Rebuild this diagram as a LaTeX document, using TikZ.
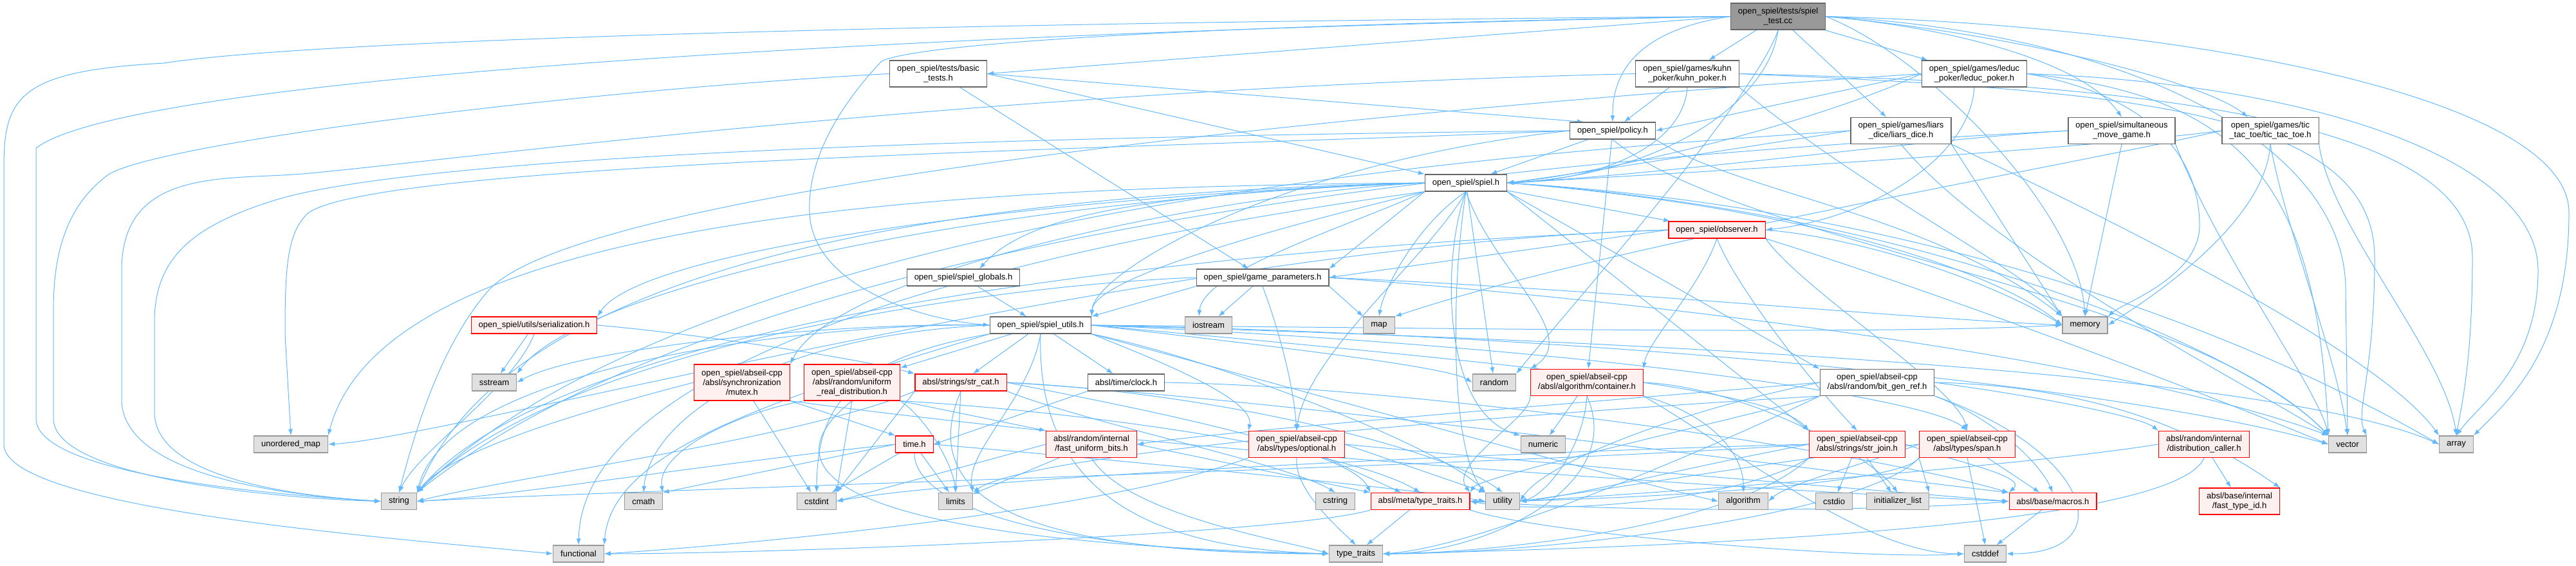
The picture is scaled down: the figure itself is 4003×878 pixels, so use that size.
\documentclass[tikz,border=0pt]{standalone}
\usepackage{fontspec}
\setmainfont{Liberation Sans}
\usepackage{tikz}
\usetikzlibrary{arrows.meta,backgrounds}

\definecolor{edgeblue}{HTML}{63B8FF}
\definecolor{boxline}{HTML}{666666}
\definecolor{mainfill}{HTML}{999999}
\definecolor{sysfill}{HTML}{E0E0E0}
\definecolor{sysline}{HTML}{999999}
\definecolor{cutfill}{HTML}{FFF0F0}
\definecolor{cutline}{HTML}{FF0000}

\tikzset{
  filebox/.style={draw=boxline, fill=white, line width=1.2pt, font=\fontsize{13}{15}\selectfont,
    inner xsep=11.5pt, inner ysep=2pt, minimum height=26pt, align=center},
  mainbox/.style={filebox, fill=mainfill},
  cutbox/.style={filebox, draw=cutline, fill=cutfill},
  sysbox/.style={filebox, draw=sysline, fill=sysfill},
  lines2/.style={minimum height=41pt},
  lines3/.style={minimum height=56pt},
  incl/.style={draw=edgeblue, line width=1pt, -{Latex[length=10pt,width=7pt]}}
}

\begin{document}
\begin{tikzpicture}[x=1pt,y=-1pt]
\useasboundingbox (0,0) rectangle (4003,878);

\node[mainbox,lines2] (main) at (2763,25.5) {open\_spiel/tests/spiel\\\_test.cc};
\node[filebox,lines2] (basic) at (1458,114.5) {open\_spiel/tests/basic\\\_tests.h};
\node[filebox,lines2] (kuhn) at (2622,114.5) {open\_spiel/games/kuhn\\\_poker/kuhn\_poker.h};
\node[filebox,lines2] (leduc) at (3068,114.5) {open\_spiel/games/leduc\\\_poker/leduc\_poker.h};
\node[filebox] (policy) at (2506,203) {open\_spiel/policy.h};
\node[filebox,lines2] (liars) at (2954,203) {open\_spiel/games/liars\\\_dice/liars\_dice.h};
\node[filebox,lines2] (simul) at (3297,203) {open\_spiel/simultaneous\\\_move\_game.h};
\node[filebox,lines2] (ttt) at (3528,203) {open\_spiel/games/tic\\\_tac\_toe/tic\_tac\_toe.h};
\node[filebox] (spiel) at (2278,284) {open\_spiel/spiel.h};
\node[cutbox] (observer) at (2668,357) {open\_spiel/observer.h};
\node[filebox] (globals) at (1497,431) {open\_spiel/spiel\_globals.h};
\node[filebox] (params) at (1962,431) {open\_spiel/game\_parameters.h};
\node[sysbox] (map) at (2143,505) {map};
\node[sysbox] (iostream) at (1878,505) {iostream};
\node[sysbox] (memory) at (3240,505) {memory};
\node[cutbox] (serial) at (830,505) {open\_spiel/utils/serialization.h};
\node[filebox] (utils) at (1617,505) {open\_spiel/spiel\_utils.h};
\node[sysbox] (sstream) at (768,594) {sstream};
\node[cutbox,lines3] (mutex) at (1153,594) {open\_spiel/abseil-cpp\\/absl/synchronization\\/mutex.h};
\node[cutbox,lines3] (unireal) at (1324,594) {open\_spiel/abseil-cpp\\/absl/random/uniform\\\_real\_distribution.h};
\node[cutbox] (strcat) at (1493,594) {absl/strings/str\_cat.h};
\node[filebox] (clock) at (1750,594) {absl/time/clock.h};
\node[sysbox] (random) at (2322,594) {random};
\node[cutbox,lines2] (container) at (2466,594) {open\_spiel/abseil-cpp\\/absl/algorithm/container.h};
\node[filebox,lines2] (bitgen) at (2917,594) {open\_spiel/abseil-cpp\\/absl/random/bit\_gen\_ref.h};
\node[sysbox] (umap) at (452,690) {unordered\_map};
\node[cutbox] (timeh) at (1421,690) {time.h};
\node[cutbox,lines2] (fastbits) at (1696,690) {absl/random/internal\\/fast\_uniform\_bits.h};
\node[cutbox,lines2] (optional) at (2015,690) {open\_spiel/abseil-cpp\\/absl/types/optional.h};
\node[sysbox] (numeric) at (2398,690) {numeric};
\node[cutbox,lines2] (strjoin) at (2886,690) {open\_spiel/abseil-cpp\\/absl/strings/str\_join.h};
\node[cutbox,lines2] (span) at (3057,690) {open\_spiel/abseil-cpp\\/absl/types/span.h};
\node[cutbox,lines2] (distcaller) at (3425,690) {absl/random/internal\\/distribution\_caller.h};
\node[sysbox] (vector) at (3648,690) {vector};
\node[sysbox] (array) at (3817,690) {array};
\node[sysbox] (string) at (620,778.5) {string};
\node[sysbox] (cmath) at (1000,778.5) {cmath};
\node[sysbox] (cstdint) at (1269,778.5) {cstdint};
\node[sysbox] (limits) at (1485,778.5) {limits};
\node[sysbox] (cstring) at (2075,778.5) {cstring};
\node[cutbox] (metatt) at (2207,778.5) {absl/meta/type\_traits.h};
\node[sysbox] (utility) at (2335,778.5) {utility};
\node[sysbox] (algorithm) at (2709,778.5) {algorithm};
\node[sysbox] (cstdio) at (2850,778.5) {cstdio};
\node[sysbox] (initlist) at (2949,778.5) {initializer\_list};
\node[cutbox] (macros) at (3190,778.5) {absl/base/macros.h};
\node[cutbox,lines2] (fasttypeid) at (3480,778.5) {absl/base/internal\\/fast\_type\_id.h};
\node[sysbox] (functional) at (899,860) {functional};
\node[sysbox] (typetraits) at (2107,860) {type\_traits};
\node[sysbox] (cstddef) at (3085,860) {cstddef};

\begin{scope}[on background layer]
% spiel_test.cc
\draw[incl] (main.west) .. controls (1500,35) and (500,60) .. (255,98) .. controls (30,110) and (6,150) .. (6,260) -- (6,690) .. controls (6,790) and (600,835) .. (functional.west);
\draw[incl] (main.west) .. controls (1400,50) and (200,120) .. (56,230) -- (56,650) .. controls (56,740) and (450,770) .. (string.west);
\draw[incl] (main.west) -- (basic.east);
\draw[incl] (main.west) .. controls (1800,40) and (1420,70) .. (1370,95) .. controls (1290,180) and (1255,260) .. (1258,330) .. controls (1262,440) and (1420,495) .. (utils.west);
\draw[incl] (main) -- (kuhn);
\draw[incl] (main.west) .. controls (2560,45) and (2505,100) .. (policy.north);
\draw[incl] (main.south) .. controls (2750,150) and (2600,270) .. (spiel.east);
\draw[incl] (main.south) .. controls (2730,150) and (2420,500) .. (random.north east);
\draw[incl] (main) -- (liars);
\draw[incl] (main) -- (leduc);
\draw[incl] (main.east) .. controls (3050,45) and (3240,100) .. (simul.north);
\draw[incl] (main.east) .. controls (3150,55) and (3430,130) .. ([xshift=-35pt]ttt.north);
\draw[incl] (main.east) .. controls (3400,40) and (3992,150) .. (3992,330) .. controls (3992,540) and (3900,620) .. (array.north east);
\draw[incl] (main.east) .. controls (3300,50) and (3645,220) .. (3645,450) -- (vector.north);
\draw[incl] (main.east) .. controls (3000,90) and (3230,330) .. (memory.north);
% basic_tests.h
\draw[incl] (basic.west) .. controls (900,140) and (260,220) .. (170,270) .. controls (100,320) and (83,400) .. (83,480) -- (83,650) .. controls (83,745) and (450,775) .. (string.west);
\draw[incl] (basic) -- (params);
\draw[incl] (basic.east) -- (spiel.north west);
\draw[incl] (basic.east) -- ([xshift=-45pt]policy.north);
% kuhn_poker.h
\draw[incl] (kuhn.west) .. controls (1500,140) and (700,250) .. (470,270) .. controls (350,280) and (189,260) .. (189,420) -- (189,620) .. controls (189,740) and (450,770) .. (string.west);
\draw[incl] (kuhn) -- (policy);
\draw[incl] (kuhn.south) .. controls (2615,230) and (2480,280) .. (spiel.east);
\draw[incl] (kuhn.east) .. controls (3300,140) and (3690,170) .. (3690,400) .. controls (3690,580) and (3660,640) .. (vector.north east);
\draw[incl] (kuhn.east) .. controls (3400,130) and (3842,200) .. (3842,400) .. controls (3842,560) and (3825,630) .. (array.north);
\draw[incl] (kuhn.south east) .. controls (2900,300) and (3150,420) .. (memory.north west);
% leduc_poker.h
\draw[incl] (leduc.west) -- (policy.east);
\draw[incl] (leduc.west) .. controls (2800,200) and (2480,270) .. (spiel.east);
\draw[incl] (leduc.south) .. controls (3060,250) and (2900,340) .. (observer.east);
\draw[incl] (leduc.east) .. controls (3350,150) and (3418,250) .. (3418,350) .. controls (3418,430) and (3300,470) .. (memory.north east);
\draw[incl] (leduc.east) .. controls (3600,130) and (3944,250) .. (3944,420) .. controls (3944,570) and (3850,630) .. (array.north);
\draw[incl] (leduc.east) .. controls (3500,150) and (3600,300) .. (vector.north west);
\draw[incl] (leduc.west) .. controls (2000,180) and (900,300) .. (760,450) .. controls (690,530) and (650,650) .. (string.north);
% policy.h
\draw[incl] (policy) -- (spiel);
\draw[incl] (policy) -- (container);
\draw[incl] (policy.west) .. controls (1800,210) and (700,230) .. (430,310) .. controls (300,350) and (240,400) .. (240,500) -- (240,640) .. controls (240,740) and (450,770) .. (string.west);
\draw[incl] (policy.west) .. controls (1800,230) and (600,250) .. (480,330) .. controls (445,360) and (443,420) .. (443,520) -- (umap.north);
\draw[incl] (policy.south east) .. controls (2700,300) and (3000,330) .. (memory.north west);
\draw[incl] (policy.south) .. controls (2700,380) and (3400,450) .. (vector.north west);
\draw[incl] (policy.west) .. controls (2000,250) and (1700,420) .. (utils.north east);
% liars_dice.h
\draw[incl] (liars.west) .. controls (2700,230) and (2450,270) .. (spiel.east);
\draw[incl] (liars.south east) -- (memory.north west);
\draw[incl] (liars.south) .. controls (3100,400) and (3500,600) .. (vector.north west);
\draw[incl] (liars.south east) .. controls (3300,350) and (3700,550) .. (array.north west);
\draw[incl] (liars.west) .. controls (2300,240) and (1100,330) .. (string.north east);
% simultaneous_move_game.h
\draw[incl] (simul.west) .. controls (3000,215) and (2600,270) .. (spiel.east);
\draw[incl] (simul.south) -- (memory.north);
\draw[incl] (simul.south east) .. controls (3450,400) and (3600,600) .. (vector.north west);
\draw[incl] (simul.west) .. controls (2500,240) and (1200,330) .. (string.north east);
% tic_tac_toe.h
\draw[incl] (ttt.west) .. controls (3200,235) and (2600,270) .. (spiel.east);
\draw[incl] (ttt.west) .. controls (3200,260) and (2500,380) .. (map.north east);
\draw[incl] (ttt.south) .. controls (3520,350) and (3330,470) .. (memory.east);
\draw[incl] (ttt.south) .. controls (3550,350) and (3630,550) .. (vector.north);
\draw[incl] (ttt.south east) .. controls (3620,350) and (3800,550) .. (array.north);
% spiel.h
\draw[incl] (spiel) -- (observer);
\draw[incl] (spiel.south west) -- (params.north east);
\draw[incl] (spiel.west) .. controls (1800,300) and (1600,330) .. ([xshift=25pt]globals.north);
\draw[incl] (spiel.south west) .. controls (2000,350) and (1700,430) .. (utils.north east);
\draw[incl] (spiel.west) .. controls (1900,300) and (1300,420) .. (mutex.north east);
\draw[incl] (spiel.west) .. controls (1700,300) and (1000,380) .. (serial.north east);
\draw[incl] (spiel.west) .. controls (1500,300) and (800,400) .. (string.north east);
\draw[incl] (spiel.west) .. controls (1500,290) and (600,330) .. (umap.north east);
\draw[incl] (spiel.south west) .. controls (1600,380) and (905,550) .. (functional.north);
\draw[incl] (spiel) -- (random);
\draw[incl] (spiel.south east) -- (bitgen.north west);
\draw[incl] (spiel.south east) -- (strjoin.north west);
\draw[incl] (spiel.south) .. controls (2220,400) and (2030,550) .. (optional.north);
\draw[incl] (spiel.south) .. controls (2254,450) and (2254,700) .. (utility.north west);
\draw[incl] (spiel.south) .. controls (2240,400) and (2240,640) .. (numeric.north west);
\draw[incl] (spiel.east) .. controls (2800,320) and (3100,420) .. (memory.west);
\draw[incl] (spiel.east) .. controls (3000,330) and (3500,550) .. (vector.north west);
\draw[incl] (spiel.east) .. controls (3100,330) and (3600,580) .. (array.west);
\draw[incl] (spiel.south west) .. controls (2100,350) and (1870,420) .. ([xshift=-15pt]iostream.north);
\draw[incl] (spiel.south) .. controls (2200,350) and (2150,450) .. (map.north);
\draw[incl] (spiel.west) .. controls (1500,310) and (900,450) .. (sstream.north east);
\draw[incl] (spiel.south) .. controls (2320,420) and (2460,520) .. (container.north west);
% observer.h
\draw[incl] (observer.west) -- (params.east);
\draw[incl] (observer.west) .. controls (2000,380) and (900,470) .. (string.north east);
\draw[incl] (observer.west) .. controls (1800,380) and (700,680) .. (umap.east);
\draw[incl] (observer.east) .. controls (2900,370) and (3100,440) .. (memory.west);
\draw[incl] (observer.south east) .. controls (3000,450) and (3400,600) .. (vector.west);
\draw[incl] (observer.south) .. controls (2640,450) and (2560,530) .. (container.north east);
\draw[incl] (observer.south) .. controls (2700,450) and (2820,600) .. (strjoin.north);
\draw[incl] (observer.south east) .. controls (2800,450) and (3040,600) .. (span.north);
% game_parameters.h
\draw[incl] (params.south west) -- (utils.north east);
\draw[incl] (params) -- (iostream);
\draw[incl] (params.south east) -- (map.north west);
\draw[incl] (params.east) .. controls (2500,450) and (2900,490) .. (memory.west);
\draw[incl] (params.west) .. controls (1600,440) and (900,520) .. (string.north east);
\draw[incl] (params.south) .. controls (1990,520) and (2010,600) .. (optional.north);
\draw[incl] (params.east) .. controls (2600,470) and (3300,560) .. (vector.north west);
% spiel_globals.h
\draw[incl] (globals) -- (utils);
% serialization.h
\draw[incl] (serial) -- (sstream);
\draw[incl] (serial.east) .. controls (1100,520) and (1350,560) .. (strcat.north west);
\draw[incl] (serial.south) .. controls (800,600) and (650,700) .. (string.north);
% spiel_utils.h
\draw[incl] (utils) -- (unireal);
\draw[incl] (utils) -- (strcat);
\draw[incl] (utils) -- (clock);
\draw[incl] (utils.south east) .. controls (1800,560) and (1950,620) .. (optional.north west);
\draw[incl] (utils.west) .. controls (1300,500) and (700,560) .. (string.north east);
\draw[incl] (utils.west) .. controls (1300,500) and (900,540) .. (sstream.east);
\draw[incl] (utils.south west) .. controls (1200,620) and (950,700) .. (functional.north east);
\draw[incl] (utils.west) .. controls (1200,520) and (1010,650) .. (cmath.north);
\draw[incl] (utils.south west) .. controls (1300,560) and (1270,650) .. (cstdint.north);
\draw[incl] (utils.south) .. controls (1612,700) and (1700,850) .. (typetraits.west);
\draw[incl] (utils.south east) .. controls (1900,560) and (2250,700) .. (utility.north west);
\draw[incl] (utils.east) .. controls (2500,520) and (3300,600) .. (vector.west);
\draw[incl] (utils.east) .. controls (2300,510) and (2900,520) .. (memory.west);
\draw[incl] (utils.east) .. controls (2000,540) and (2250,570) .. (random.west);
\draw[incl] (utils.south east) .. controls (2000,600) and (2500,740) .. (algorithm.west);
\draw[incl] (utils.east) .. controls (2300,560) and (2750,600) .. (strjoin.north west);
\draw[incl] (utils.east) .. controls (2500,540) and (3000,620) .. (span.north);
\draw[incl] (utils.south) .. controls (1600,620) and (1500,700) .. (limits.north east);
\draw[incl] (utils.east) .. controls (2200,520) and (3500,560) .. (array.west);
% synchronization/mutex.h
\draw[incl] (mutex) -- (cstdint);
\draw[incl] (mutex.south east) -- (timeh.north west);
\draw[incl] (mutex.west) .. controls (900,640) and (700,700) .. (string.north east);
\draw[incl] (mutex.south east) .. controls (1800,700) and (2700,760) .. (macros.west);
% uniform_real_distribution.h
\draw[incl] (unireal.south) -- (cstdint.north east);
\draw[incl] (unireal.south east) .. controls (1440,650) and (1480,720) .. (limits.north);
\draw[incl] (unireal.south east) -- (fastbits.north west);
\draw[incl] (unireal.south) .. controls (1200,720) and (1250,840) .. (typetraits.west);
\draw[incl] (unireal.south west) .. controls (1150,640) and (1020,700) .. (cmath.north east);
\draw[incl] (unireal.south east) .. controls (1700,640) and (2100,700) .. (metatt.north);
% str_cat.h
\draw[incl] (strcat.south west) -- (cstdint.north east);
\draw[incl] (strcat.south west) .. controls (1250,680) and (800,740) .. (string.east);
\draw[incl] (strcat.south) -- (limits.north);
\draw[incl] (strcat.south east) .. controls (1700,660) and (2000,720) .. (cstring.north);
\draw[incl] (strcat.east) .. controls (1900,610) and (2250,700) .. (utility.north);
\draw[incl] (strcat.east) .. controls (2000,620) and (2900,740) .. (macros.north west);
\draw[incl] (strcat.south) .. controls (1420,780) and (1600,860) .. (typetraits.west);
\draw[incl] (strcat.east) .. controls (1800,640) and (2100,700) .. (metatt.north west);
% clock.h
\draw[incl] (clock.south west) -- (timeh.east);
\draw[incl] (clock.east) .. controls (2200,600) and (2900,700) .. (macros.north west);
% time.h
\draw[incl] (timeh) -- (cstdint);
\draw[incl] (timeh) -- (limits);
\draw[incl] (timeh.west) .. controls (1100,720) and (800,770) .. (string.east);
\draw[incl] (timeh.west) -- (cmath.north east);
\draw[incl] (timeh.south) .. controls (1420,800) and (1700,860) .. (typetraits.west);
\draw[incl] (timeh.east) .. controls (1800,720) and (2200,760) .. (utility.west);
% fast_uniform_bits.h
\draw[incl] (fastbits) -- (limits);
\draw[incl] (fastbits.west) -- (cstdint.east);
\draw[incl] (fastbits.south) .. controls (1750,800) and (2000,840) .. (typetraits.west);
\draw[incl] (fastbits.east) -- (metatt.north west);
% optional.h
\draw[incl] (optional.south) .. controls (2010,760) and (2080,820) .. (typetraits.north);
\draw[incl] (optional) -- (metatt);
\draw[incl] (optional.east) -- (utility.north west);
\draw[incl] (optional.south west) .. controls (1700,800) and (1100,850) .. (functional.east);
\draw[incl] (optional.east) .. controls (2400,720) and (2900,760) .. (macros.west);
% container.h
\draw[incl] (container) -- (numeric);
\draw[incl] (container.south) .. controls (2460,700) and (2400,770) .. (utility.east);
\draw[incl] (container.south east) .. controls (2650,640) and (2710,700) .. (algorithm.north);
\draw[incl] (container.south) .. controls (2530,760) and (2300,860) .. (typetraits.east);
\draw[incl] (container.south west) .. controls (2380,650) and (2250,720) .. (metatt.north east);
\draw[incl] (container.south east) .. controls (2700,700) and (2900,860) .. (cstddef.west);
\draw[incl] (container.east) .. controls (2700,600) and (2900,700) .. (initlist.north);
% bit_gen_ref.h
\draw[incl] (bitgen.west) .. controls (2600,640) and (2400,720) .. (utility.east);
\draw[incl] (bitgen.south west) .. controls (2650,700) and (2300,850) .. (typetraits.east);
\draw[incl] (bitgen.west) .. controls (2400,630) and (1900,670) .. (fastbits.east);
\draw[incl] (bitgen.east) .. controls (3200,620) and (3330,650) .. (distcaller.north west);
\draw[incl] (bitgen.east) .. controls (3300,600) and (3460,700) .. (fasttypeid.north east);
\draw[incl] (bitgen.south east) .. controls (3100,650) and (3170,720) .. (macros.north);
\draw[incl] (bitgen.south west) .. controls (2400,640) and (1600,700) .. (limits.north east);
\draw[incl] (bitgen.south west) .. controls (2700,650) and (2300,740) .. (metatt.north east);
\draw[incl] (bitgen.south east) .. controls (3250,700) and (3300,860) .. (cstddef.east);
% str_join.h
\draw[incl] (strjoin) -- (cstdio);
\draw[incl] (strjoin) -- (initlist);
\draw[incl] (strjoin.west) .. controls (2400,720) and (1000,760) .. (string.east);
\draw[incl] (strjoin.west) .. controls (2600,730) and (2450,770) .. (utility.east);
\draw[incl] (strjoin.south west) .. controls (2700,820) and (2300,860) .. (typetraits.east);
\draw[incl] (strjoin.east) .. controls (3050,720) and (3150,740) .. (macros.north west);
\draw[incl] (strjoin.west) .. controls (2400,700) and (1500,740) .. (cstdint.east);
\draw[incl] (strjoin.south west) .. controls (2700,780) and (2400,800) .. (metatt.east);
% span.h
\draw[incl] (span.south) -- (cstddef.north);
\draw[incl] (span) -- (macros);
\draw[incl] (span.south west) -- (initlist.north east);
\draw[incl] (span.west) .. controls (2900,720) and (2780,750) .. (algorithm.east);
\draw[incl] (span.west) .. controls (2800,710) and (2500,760) .. (utility.east);
\draw[incl] (span.south west) .. controls (2900,800) and (2400,860) .. (typetraits.east);
\draw[incl] (span.south west) .. controls (2950,760) and (2400,780) .. (metatt.east);
% distribution_caller.h
\draw[incl] (distcaller) -- (fasttypeid);
\draw[incl] (distcaller.west) .. controls (3100,730) and (2500,770) .. (utility.east);
\draw[incl] (distcaller.south) .. controls (3380,820) and (2600,850) .. (typetraits.east);
% meta/type_traits.h
\draw[incl] (metatt) -- (typetraits);
\draw[incl] (metatt.south east) .. controls (2400,830) and (2900,870) .. (cstddef.west);
\draw[incl] (metatt.south west) .. controls (2000,830) and (1200,860) .. (functional.east);
\draw[incl] (metatt.east) .. controls (2600,800) and (3000,790) .. (macros.west);
% macros.h
\draw[incl] (macros) -- (cstddef);
\end{scope}
\end{tikzpicture}
\end{document}
